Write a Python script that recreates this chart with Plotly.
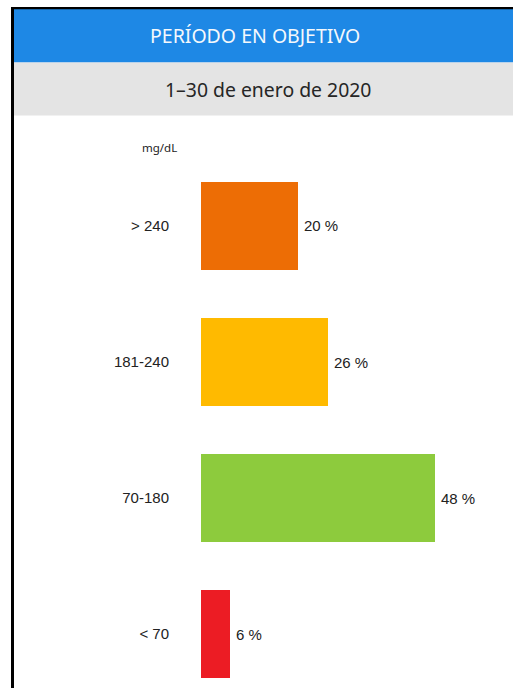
import plotly.graph_objects as go

# Glucose ranges (top to bottom) and share of time spent in each
ranges = ["> 240", "181-240", "70-180", "< 70"]
percent = [20, 26, 48, 6]
colors = ["#ED6D05", "#FFBA00", "#8DCB3D", "#EC1C24"]
labels = [f"{p} %" for p in percent]

W, H = 513, 688
LABEL_FONT = dict(family="Liberation Sans, Arial, sans-serif", size=15, color="#222222")


def py(px):
    """Convert a pixel row (from top) to paper y."""
    return 1 - px / H


def pxx(px):
    return px / W


fig = go.Figure()

fig.add_trace(go.Bar(
    y=ranges,
    x=percent,
    orientation="h",
    marker=dict(color=colors, line=dict(width=0)),
    width=88 / 136,
    hoverinfo="skip",
))

# y axis: one category per 136 px, first bar centred at 226 px
top_px, bot_px = 158, 688
span = (bot_px - top_px) / 136
fig.update_yaxes(
    type="category",
    categoryorder="array",
    categoryarray=ranges,
    range=[-0.5 + span, -0.5],
    domain=[0, py(top_px)],
    showgrid=False, zeroline=False, showline=False, ticks="",
    ticklabelstandoff=31,
    tickfont=LABEL_FONT,
)

x0_px, scale = 201, 4.87
x_max = 60
fig.update_xaxes(
    range=[0, x_max],
    domain=[pxx(x0_px), pxx(x0_px + x_max * scale)],
    visible=False,
)

shapes = [
    # header band
    dict(type="rect", xref="paper", yref="paper", x0=pxx(14), x1=1,
         y0=py(62.5), y1=py(9), fillcolor="#1E88E5", line=dict(width=0), layer="below"),
    # date band
    dict(type="rect", xref="paper", yref="paper", x0=pxx(14), x1=1,
         y0=py(115.5), y1=py(62.5), fillcolor="#E4E4E4", line=dict(width=0), layer="below"),
    # frame: top and left edges
    dict(type="rect", xref="paper", yref="paper", x0=pxx(11), x1=1,
         y0=py(9.3), y1=py(7), fillcolor="#000000", line=dict(width=0)),
    dict(type="rect", xref="paper", yref="paper", x0=pxx(11), x1=pxx(14),
         y0=0, y1=py(7), fillcolor="#000000", line=dict(width=0)),
]

annotations = [
    dict(text="PERÍODO EN OBJETIVO", xref="paper", yref="paper",
         x=pxx(255), y=py(36), showarrow=False, xanchor="center", yanchor="middle",
         font=dict(family="Noto Sans, sans-serif", size=19.5, color="#F4F8FC")),
    dict(text="1–30 de enero de 2020", xref="paper", yref="paper",
         x=pxx(267.5), y=py(89), showarrow=False, xanchor="center", yanchor="middle",
         font=dict(family="Noto Sans, sans-serif", size=19.4, color="#262626")),
    dict(text="mg/dL", xref="paper", yref="paper",
         x=pxx(159), y=py(148), showarrow=False, xanchor="center", yanchor="middle",
         font=dict(family="Noto Sans, sans-serif", size=11.5, color="#222222")),
]

# value labels just to the right of each bar end
for r, p, t in zip(ranges, percent, labels):
    annotations.append(dict(
        text=t, x=p, y=r, xref="x", yref="y", showarrow=False,
        xanchor="left", yanchor="middle", xshift=4,
        font=LABEL_FONT,
    ))

fig.update_layout(
    width=W, height=H,
    margin=dict(l=0, r=0, t=0, b=0),
    paper_bgcolor="#FFFFFF",
    plot_bgcolor="#FFFFFF",
    showlegend=False,
    bargap=0,
    shapes=shapes,
    annotations=annotations,
)

fig.write_html("out.html")
